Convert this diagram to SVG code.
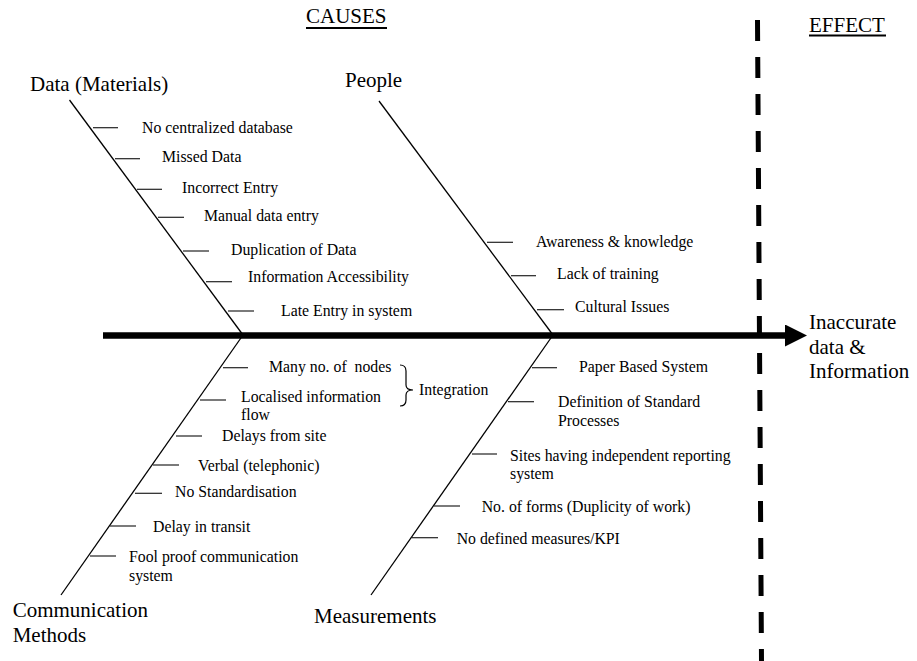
<svg xmlns="http://www.w3.org/2000/svg" width="917" height="661" viewBox="0 0 917 661">
<style>
text{font-family:"Liberation Serif","Times New Roman",serif;fill:#000}
.cat{font-size:21px}
.hd{font-size:21px}
.it{font-size:15.8px}
.bone{stroke:#000;stroke-width:1.3;fill:none}
.rib{stroke:#222;stroke-width:1.2;fill:none}
.ul{stroke:#000;stroke-width:1.8}
</style>
<defs>
<marker id="ah" markerWidth="22" markerHeight="22" refX="0" refY="11" orient="auto" markerUnits="userSpaceOnUse">
<path d="M0,0 L22,11 L0,22 Z" fill="#000"/>
</marker>
</defs>
<rect width="917" height="661" fill="#fff"/>
<g id="headers">
<text class="hd" x="306" y="23">CAUSES</text>
<line class="ul" x1="306" y1="28" x2="387" y2="28"/>
<text class="hd" x="809" y="32">EFFECT</text>
<line class="ul" x1="809" y1="35.5" x2="886" y2="35.5"/>
</g>
<g id="divider">
<line x1="757.5" y1="20" x2="761.5" y2="661" stroke="#000" stroke-width="5" stroke-dasharray="21 16"/>
</g>
<g id="connectors">
<line x1="103" y1="335.5" x2="785" y2="335.5" stroke="#000" stroke-width="6.5" marker-end="url(#ah)"/>
<line class="bone" x1="69.5" y1="100" x2="243" y2="335"/>
<line class="bone" x1="379" y1="101" x2="553" y2="335"/>
<line class="bone" x1="243" y1="335" x2="61" y2="595"/>
<line class="bone" x1="553" y1="335" x2="371" y2="595"/>
</g>
<g id="effect">
<text class="cat" x="809" y="329">Inaccurate</text>
<text class="cat" x="809" y="353.5">data &amp;</text>
<text class="cat" x="809" y="378">Information</text>
</g>
<g id="data-materials">
<text class="cat" x="30" y="91">Data (Materials)</text>
<line class="rib" x1="93" y1="127.7" x2="118" y2="127.7"/>
<text class="it" x="142" y="132.5">No centralized database</text>
<line class="rib" x1="115" y1="158.7" x2="140" y2="158.7"/>
<text class="it" x="162" y="161.5">Missed Data</text>
<line class="rib" x1="137" y1="189.3" x2="162" y2="189.3"/>
<text class="it" x="182" y="193">Incorrect Entry</text>
<line class="rib" x1="158" y1="217.3" x2="184" y2="217.3"/>
<text class="it" x="204" y="221">Manual data entry</text>
<line class="rib" x1="183" y1="251" x2="209" y2="251"/>
<text class="it" x="231" y="254.5">Duplication of Data</text>
<line class="rib" x1="206" y1="281.7" x2="232" y2="281.7"/>
<text class="it" x="248" y="282">Information Accessibility</text>
<line class="rib" x1="228" y1="311" x2="254" y2="311"/>
<text class="it" x="281" y="316">Late Entry in system</text>
</g>
<g id="people">
<text class="cat" x="345" y="87">People</text>
<line class="rib" x1="487" y1="242.3" x2="513" y2="242.3"/>
<text class="it" x="536" y="246.7">Awareness &amp; knowledge</text>
<line class="rib" x1="511" y1="275.7" x2="536" y2="275.7"/>
<text class="it" x="557" y="279">Lack of training</text>
<line class="rib" x1="537" y1="309.7" x2="564" y2="309.7"/>
<text class="it" x="575" y="311.7">Cultural Issues</text>
</g>
<g id="communication-methods">
<text class="cat" x="12.7" y="617.3">Communication</text>
<text class="cat" x="12.7" y="642.3">Methods</text>
<line class="rib" x1="223" y1="367.7" x2="248" y2="367.7"/>
<text class="it" x="269" y="371.7" xml:space="preserve">Many no. of  nodes</text>
<line class="rib" x1="200" y1="400" x2="226" y2="400"/>
<text class="it" x="241" y="401.7">Localised information</text>
<text class="it" x="241" y="420">flow</text>
<line class="rib" x1="176" y1="436" x2="202" y2="436"/>
<text class="it" x="222" y="441">Delays from site</text>
<line class="rib" x1="153" y1="465" x2="179" y2="465"/>
<text class="it" x="198" y="470.7">Verbal (telephonic)</text>
<line class="rib" x1="135" y1="493.3" x2="162" y2="493.3"/>
<text class="it" x="175" y="497.3">No Standardisation</text>
<line class="rib" x1="110" y1="526" x2="136" y2="526"/>
<text class="it" x="153" y="531.7">Delay in transit</text>
<line class="rib" x1="90" y1="556" x2="116" y2="556"/>
<text class="it" x="129" y="562.3">Fool proof communication</text>
<text class="it" x="129" y="580.7">system</text>
</g>
<g id="integration">
<path d="M400,365 Q406,365 406,371 L406,385 Q406,390 413,390 Q406,390 406,395 L406,400 Q406,406 400,406" fill="none" stroke="#000" stroke-width="1.2"/>
<text class="it" x="419" y="395">Integration</text>
</g>
<g id="measurements">
<text class="cat" x="314" y="623.3">Measurements</text>
<line class="rib" x1="532" y1="367.7" x2="557" y2="367.7"/>
<text class="it" x="579" y="371.7">Paper Based System</text>
<line class="rib" x1="508" y1="401.7" x2="534" y2="401.7"/>
<text class="it" x="558" y="406.7">Definition of Standard</text>
<text class="it" x="558" y="425.7">Processes</text>
<line class="rib" x1="472" y1="454" x2="497" y2="454"/>
<text class="it" x="510" y="460.7">Sites having independent reporting</text>
<text class="it" x="510" y="479">system</text>
<line class="rib" x1="434" y1="506" x2="460" y2="506"/>
<text class="it" x="481.7" y="512.3">No. of forms (Duplicity of work)</text>
<line class="rib" x1="411.7" y1="537.7" x2="438" y2="537.7"/>
<text class="it" x="456.7" y="544">No defined measures/KPI</text>
</g>
</svg>
